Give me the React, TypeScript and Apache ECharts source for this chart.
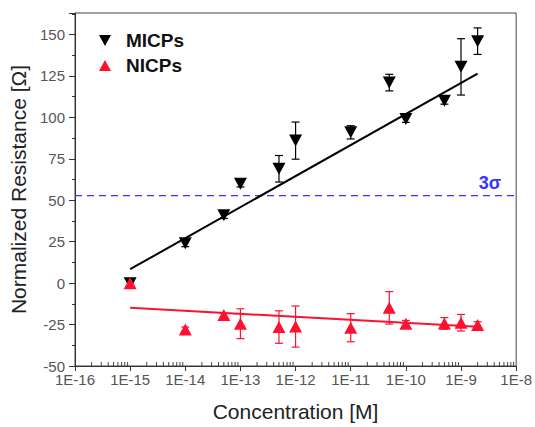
import React, { useEffect, useRef } from "react";
import * as echarts from "echarts";

const concentrations = [1e-15, 1e-14, 5e-14, 1e-13, 5e-13, 1e-12, 1e-11, 5e-11, 1e-10, 5e-10, 1e-9, 2e-9];
const micpValues = [0, 24, 41, 60, 69, 86, 91, 121, 99, 110, 130.5, 146];
const micpErrors = [2, 2, 2, 2, 8, 11.2, 4, 5, 2, 2, 17, 8];
const nicpValues = [0, -28, -19.3, -24.5, -26.5, -26.2, -26.9, -14.9, -24.5, -24.3, -23.9, -25.3];
const nicpErrors = [2, 1.5, 1, 9, 9.8, 12.4, 8.5, 9.8, 2, 3.5, 5, 2];
const micpFit = [[1e-15, 8.4], [2e-9, 126.4]];
const nicpFit = [[1e-15, -14.9], [2e-9, -26.3]];
const threshold = 52.8;
const xMin = 1e-16;
const xMax = 1e-8;
const yMin = -50;
const yMax = 163;
const minorTickValues: number[] = [];
for (let e = -16; e < -8; e++) {
  for (let k = 2; k <= 9; k++) minorTickValues.push(k * Math.pow(10, e));
}

const BLACK = "#000000";
const RED = "#ff1030";
const BLUE = "#3535ff";

function errorSeries(name: string, values: number[], errors: number[], color: string) {
  return {
    type: "custom",
    name,
    z: 3,
    data: concentrations.map((c, i) => [c, values[i] - errors[i], values[i] + errors[i]]),
    encode: { x: 0, y: [1, 2] },
    renderItem: (params: any, api: any) => {
      const x = api.value(0);
      const p1 = api.coord([x, api.value(1)]);
      const p2 = api.coord([x, api.value(2)]);
      const w = 4;
      const st = { stroke: color, lineWidth: 1.2 };
      return {
        type: "group",
        children: [
          { type: "line", shape: { x1: p1[0], y1: p1[1], x2: p2[0], y2: p2[1] }, style: st },
          { type: "line", shape: { x1: p1[0] - w, y1: p1[1], x2: p1[0] + w, y2: p1[1] }, style: st },
          { type: "line", shape: { x1: p2[0] - w, y1: p2[1], x2: p2[0] + w, y2: p2[1] }, style: st },
        ],
      };
    },
  };
}

export default function App() {
  const ref = useRef<HTMLDivElement>(null);
  useEffect(() => {
    if (!ref.current) return;
    const chart = echarts.init(ref.current, undefined, { renderer: "svg" });
    const option: any = {
      animation: false,
      backgroundColor: "#ffffff",
      grid: { left: 75, right: 18, top: 13, bottom: 58, show: true, borderColor: "#444", borderWidth: 1 },
      legend: {
        data: ["MICPs", "NICPs"],
        orient: "vertical",
        left: 94,
        top: 25,
        itemWidth: 12,
        itemHeight: 12,
        itemGap: 4,
        selectedMode: false,
        textStyle: { fontFamily: "Liberation Sans, Arial", fontWeight: "bold", fontSize: 19, color: "#111", padding: [0, 0, 0, 10], lineHeight: 21 },
      },
      xAxis: {
        type: "log",
        logBase: 10,
        min: xMin,
        max: xMax,
        name: "Concentration [M]",
        nameLocation: "middle",
        nameGap: 35,
        nameTextStyle: { fontFamily: "Liberation Sans, Arial", fontSize: 21, color: "#222" },
        axisLine: { show: true, onZero: false, lineStyle: { color: "#333", width: 1 } },
        axisTick: { show: true, length: 5, inside: false, lineStyle: { color: "#333" } },
        axisLabel: {
          fontFamily: "Liberation Sans, Arial",
          fontSize: 15,
          color: "#555",
          margin: 6,
          formatter: (v: number) => "1E" + Math.round(Math.log10(v)),
        },
        splitLine: { show: false },
        minorTick: { show: false },
      },
      yAxis: {
        type: "value",
        min: yMin,
        max: yMax,
        interval: 25,
        name: "Normalized Resistance [Ω]",
        nameLocation: "middle",
        nameGap: 46,
        nameTextStyle: { fontFamily: "Liberation Sans, Arial", fontSize: 21, color: "#222" },
        axisLine: { show: true, onZero: false, lineStyle: { color: "#333", width: 1 } },
        axisTick: { show: true, length: 6, inside: false, lineStyle: { color: "#333" } },
        minorTick: { show: true, splitNumber: 2, length: 3, lineStyle: { color: "#333" } },
        axisLabel: { fontFamily: "Liberation Sans, Arial", fontSize: 15, color: "#555", margin: 10, showMaxLabel: false },
        splitLine: { show: false },
      },
      series: [
        {
          type: "custom",
          name: "minorTicks",
          silent: true,
          z: 1,
          clip: false,
          data: minorTickValues.map((v) => [v, yMin]),
          renderItem: (params: any, api: any) => {
            const p = api.coord([api.value(0), api.value(1)]);
            return { type: "line", shape: { x1: p[0], y1: p[1], x2: p[0], y2: p[1] - 4 }, style: { stroke: "#444", lineWidth: 1 } };
          },
        },
        {
          type: "line",
          name: "3σ line",
          data: [[xMin, threshold], [xMax, threshold]],
          showSymbol: false,
          symbol: "none",
          lineStyle: { color: BLUE, width: 1.4, type: [7, 5] },
          z: 2,
        },
        {
          type: "line",
          name: "MICPs fit",
          data: micpFit,
          symbol: "none",
          lineStyle: { color: BLACK, width: 2 },
          z: 2,
        },
        {
          type: "line",
          name: "NICPs fit",
          data: nicpFit,
          symbol: "none",
          lineStyle: { color: RED, width: 2 },
          z: 2,
        },
        errorSeries("MICPs err", micpValues, micpErrors, BLACK),
        errorSeries("NICPs err", nicpValues, nicpErrors, RED),
        {
          type: "scatter",
          name: "MICPs",
          symbol: "path://M0,0 L10,0 L5,9 Z",
          symbolSize: [13, 12],
          itemStyle: { color: BLACK, opacity: 1 },
          data: concentrations.map((c, i) => [c, micpValues[i]]),
          z: 4,
        },
        {
          type: "scatter",
          name: "NICPs",
          symbol: "path://M5,0 L10,9 L0,9 Z",
          symbolSize: [13, 12],
          itemStyle: { color: RED, opacity: 1 },
          data: concentrations.map((c, i) => [c, nicpValues[i]]),
          z: 5,
        },
      ],
      graphic: [
        {
          type: "text",
          right: 34,
          top: 174,
          style: { text: "3σ", fontFamily: "Liberation Sans, Arial", fontWeight: "bold", fontSize: 18, fill: BLUE },
        },
      ],
    };
    chart.setOption(option);
    return () => chart.dispose();
  }, []);
  return <div ref={ref} style={{ position: "fixed", left: 0, top: 0, width: 535, height: 427 }} />;
}
